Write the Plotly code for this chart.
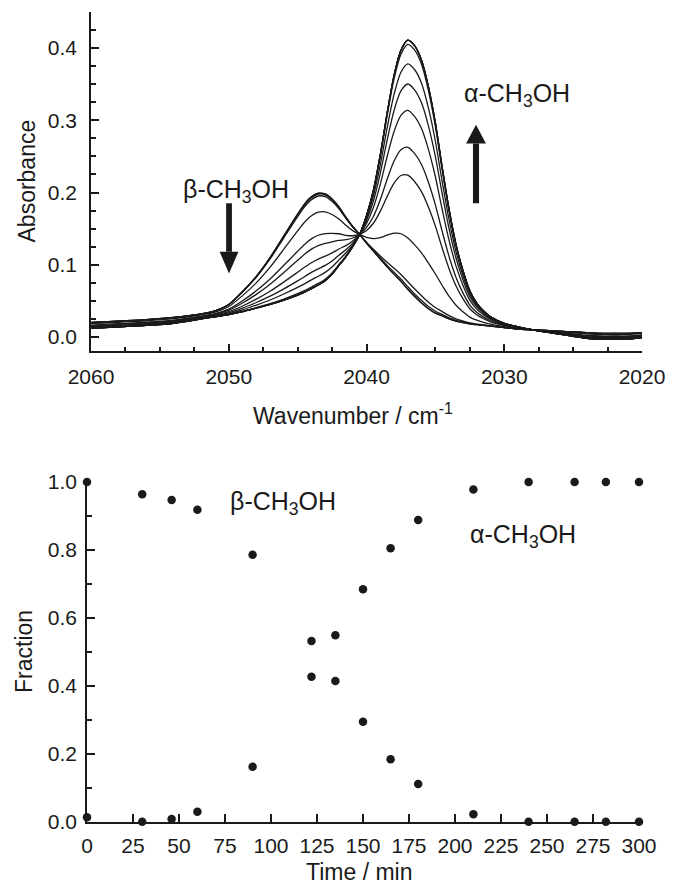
import numpy as np
import plotly.graph_objects as go

# ---------------- data ----------------
# wavenumber grid (cm-1) for the two limiting spectra
wavenumber = [2060, 2058, 2056, 2054, 2052, 2051, 2050, 2049, 2048, 2047, 2046, 2045,
              2044.5, 2044, 2043.5, 2043, 2042.5, 2042, 2041.5, 2041, 2040.5, 2040,
              2039.5, 2039, 2038.5, 2038, 2037.5, 2037, 2036.5, 2036, 2035.5, 2035,
              2034.5, 2034, 2033.5, 2033, 2032.5, 2032, 2031.5, 2031, 2030, 2029,
              2028, 2027, 2026, 2025, 2024, 2023, 2022, 2021, 2020]
# pure beta-CH3OH spectrum (first scan)
beta_spectrum = [0.020, 0.022, 0.024, 0.027, 0.032, 0.036, 0.045, 0.063, 0.084, 0.110, 0.140, 0.170,
                 0.184, 0.194, 0.199, 0.198, 0.191, 0.180, 0.166, 0.153, 0.142, 0.130,
                 0.119, 0.108, 0.097, 0.087, 0.077, 0.066, 0.056, 0.047, 0.039, 0.033,
                 0.029, 0.025, 0.022, 0.020, 0.018, 0.017, 0.016, 0.015, 0.013, 0.011,
                 0.010, 0.009, 0.008, 0.007, 0.006, 0.005, 0.005, 0.005, 0.006]
# pure alpha-CH3OH spectrum (last scan)
alpha_spectrum = [0.012, 0.014, 0.016, 0.019, 0.025, 0.028, 0.031, 0.035, 0.040, 0.045, 0.051, 0.058,
                  0.062, 0.067, 0.072, 0.078, 0.087, 0.099, 0.111, 0.125, 0.142, 0.168,
                  0.203, 0.252, 0.310, 0.362, 0.397, 0.411, 0.403, 0.383, 0.346, 0.296,
                  0.234, 0.176, 0.128, 0.092, 0.064, 0.047, 0.036, 0.028, 0.019, 0.014,
                  0.010, 0.007, 0.004, 0.001, -0.002, -0.003, -0.003, -0.003, -0.001]
# alpha share of each recorded spectrum, read from the peak heights
spectrum_alpha_share = [0.0, 0.0, 0.01, 0.03, 0.206, 0.458, 0.57, 0.718, 0.824, 0.905,
                        0.983, 1.0, 1.0, 1.0, 1.0]

# fraction vs time
time_min = [0, 30, 46, 60, 90, 122, 135, 150, 165, 180, 210, 240, 265, 282, 300]
beta_fraction = [1.0, 0.964, 0.947, 0.918, 0.786, 0.532, 0.414, 0.294, 0.184, 0.111,
                 0.022, 0.0, 0.0, 0.0, 0.0]
alpha_fraction = [0.013, 0.0, 0.008, 0.029, 0.162, 0.427, 0.549, 0.684, 0.805, 0.888,
                  0.978, 1.0, 1.0, 1.0, 1.0]

# ---------------- figure ----------------
W, H = 680, 886
FONT = "Liberation Sans, Arial, Helvetica, sans-serif"
INK = "#1a1a1a"

def px_x(p):
    return p / W

def px_y(p):
    return 1 - p / H

fig = go.Figure()

B = np.array(beta_spectrum)
A = np.array(alpha_spectrum)
for share in spectrum_alpha_share:
    fig.add_trace(go.Scatter(
        x=wavenumber, y=(1 - share) * B + share * A,
        mode="lines", line=dict(color=INK, width=1.3, shape="spline", smoothing=0.8),
        xaxis="x", yaxis="y", showlegend=False, hoverinfo="skip"))

for frac in (beta_fraction, alpha_fraction):
    fig.add_trace(go.Scatter(
        x=time_min, y=frac, mode="markers",
        marker=dict(color=INK, size=8.5), cliponaxis=False,
        xaxis="x2", yaxis="y2", showlegend=False))

axis_common = dict(showline=True, linecolor=INK, linewidth=1.5, ticks="inside",
                   tickcolor=INK, tickwidth=1.5, ticklen=8, showgrid=False, zeroline=False,
                   automargin=False,
                   tickfont=dict(family=FONT, size=21, color=INK), mirror=False)

fig.update_layout(
    template="none",
    width=W, height=H, autosize=False,
    margin=dict(l=0, r=0, t=0, b=0, pad=0),
    paper_bgcolor="white", plot_bgcolor="white",
    xaxis=dict(domain=[px_x(91), px_x(642)], anchor="y", range=[2060, 2020],
               dtick=10, tick0=2020,
               minor=dict(ticks="inside", dtick=2.5, ticklen=5, tickwidth=1.5, tickcolor=INK),
               ticklabelstandoff=6, **axis_common),
    yaxis=dict(domain=[px_y(351.4), px_y(12)], anchor="x", range=[-0.02, 0.45],
               dtick=0.1, tick0=0, tickformat=".1f",
               minor=dict(ticks="inside", dtick=0.025, ticklen=5, tickwidth=1.5, tickcolor=INK),
               ticklabelstandoff=8, **axis_common),
    xaxis2=dict(domain=[px_x(87), px_x(639)], anchor="y2", range=[0, 300],
                dtick=25, tick0=0, ticklabelstandoff=4, **axis_common),
    yaxis2=dict(domain=[px_y(821.7), px_y(482)], anchor="x2", range=[0, 1.0],
                dtick=0.2, tick0=0, tickformat=".1f",
                minor=dict(ticks="inside", dtick=0.1, ticklen=5, tickwidth=1.5, tickcolor=INK),
                ticklabelstandoff=4, **axis_common),
)

# arrows (top panel, data coordinates)
def arrow(xc, y_tail, y_head_base, y_tip, half_shaft, half_head):
    fig.add_shape(type="rect", xref="x", yref="y",
                  x0=xc - half_shaft, x1=xc + half_shaft, y0=y_tail, y1=y_head_base,
                  fillcolor=INK, line=dict(width=0))
    fig.add_shape(type="path", xref="x", yref="y",
                  path=f"M {xc - half_head},{y_head_base} L {xc + half_head},{y_head_base} L {xc},{y_tip} Z",
                  fillcolor=INK, line=dict(width=0))

arrow(2049.98, 0.185, 0.118, 0.088, 0.21, 0.68)
arrow(2032.05, 0.185, 0.268, 0.294, 0.22, 0.72)

ann_font = dict(family=FONT, size=25, color=INK)
title_font = dict(family=FONT, size=23, color=INK)
annotations = [
    dict(text="β-CH<sub>3</sub>OH", x=2049.47, y=0.202, xref="x", yref="y", font=ann_font),
    dict(text="α-CH<sub>3</sub>OH", x=2029.04, y=0.335, xref="x", yref="y", font=ann_font),
    dict(text="β-CH<sub>3</sub>OH", x=106.5, y=0.938, xref="x2", yref="y2", font=ann_font),
    dict(text="α-CH<sub>3</sub>OH", x=237, y=0.841, xref="x2", yref="y2", font=ann_font),
    dict(text="Absorbance", x=px_x(26), y=px_y(181.5), xref="paper", yref="paper",
         textangle=-90, font=title_font),
    dict(text="Wavenumber / cm<sup>-1</sup>", x=px_x(353), y=px_y(414), xref="paper",
         yref="paper", font=title_font),
    dict(text="Fraction", x=px_x(24), y=px_y(652), xref="paper", yref="paper",
         textangle=-90, font=title_font),
    dict(text="Time / min", x=px_x(359), y=px_y(872), xref="paper", yref="paper",
         font=title_font),
]
for a in annotations:
    a.update(showarrow=False, xanchor="center", yanchor="middle")
    fig.add_annotation(**a)

fig.write_html("out.html")
